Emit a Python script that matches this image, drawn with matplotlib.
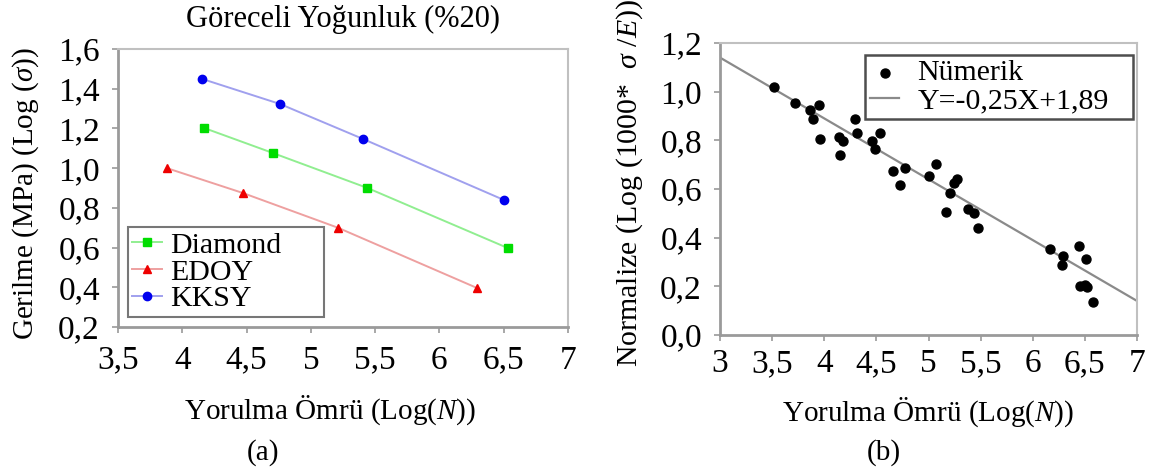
import numpy as np
import matplotlib
matplotlib.use("Agg")
import matplotlib.pyplot as plt
from matplotlib.ticker import FuncFormatter

plt.rcParams['font.family'] = 'serif'
plt.rcParams['font.serif'] = ['Liberation Serif', 'DejaVu Serif']
plt.rcParams['mathtext.fontset'] = 'custom'
plt.rcParams['mathtext.rm'] = 'Liberation Serif'
plt.rcParams['mathtext.it'] = 'Liberation Serif:italic'

# (a) Göreceli yoğunluk %20
diamond_x = [4.17, 4.705, 5.44, 6.53]
diamond_y = [1.202, 1.076, 0.90, 0.598]
edoy_x = [3.88, 4.47, 5.21, 6.29]
edoy_y = [1.00, 0.875, 0.70, 0.397]
kksy_x = [4.155, 4.76, 5.405, 6.50]
kksy_y = [1.449, 1.323, 1.147, 0.84]

# (b) nümerik noktalar
num_x = [3.52, 3.716, 3.865, 3.947, 3.887, 3.957, 4.142, 4.184, 4.152, 4.29,
         4.31, 4.46, 4.486, 4.532, 4.656, 4.77, 4.727, 5.004, 5.071, 5.206,
         5.241, 5.27, 5.17, 5.383, 5.436, 5.479, 6.163, 6.287, 6.277, 6.447,
         6.51, 6.454, 6.50, 6.52, 6.58]
num_y = [1.018, 0.955, 0.925, 0.945, 0.888, 0.804, 0.815, 0.797, 0.740, 0.888,
         0.832, 0.799, 0.764, 0.832, 0.675, 0.688, 0.616, 0.653, 0.701, 0.585,
         0.626, 0.641, 0.504, 0.516, 0.500, 0.438, 0.352, 0.325, 0.288, 0.366,
         0.311, 0.201, 0.205, 0.196, 0.137]
fit_a, fit_b = -0.25, 1.89


def comma(v, pos):
    if abs(v - round(v)) < 1e-9:
        return '%d' % round(v)
    return ('%.1f' % v).replace('.', ',')


def comma1(v, pos):
    return ('%.1f' % v).replace('.', ',')


def style_axes(ax, xpad):
    for s in ['left', 'bottom']:
        ax.spines[s].set_color('#9a9a9a')
        ax.spines[s].set_linewidth(2)
    for s in ['top', 'right']:
        ax.spines[s].set_color('#c0c0c0')
        ax.spines[s].set_linewidth(1.5)
    ax.tick_params(direction='out', length=4, width=1.2, color='#9a9a9a',
                   labelsize=24)
    ax.tick_params(axis='y', pad=9)
    ax.tick_params(axis='x', pad=xpad)


fig = plt.figure(figsize=(11.58, 4.70), dpi=100)

# ---- (a)
ax1 = fig.add_axes([0.1019, 0.3043, 0.3886, 0.5915])
ax1.plot(diamond_x, diamond_y, '-s', color='#90ee90', mfc='#00dd00', mec='#00dd00',
         ms=5.5, lw=1.4, label='Diamond')
ax1.plot(edoy_x, edoy_y, '-^', color='#eea0a0', mfc='#ee0000', mec='#ee0000',
         ms=5.5, lw=1.4, label='EDOY')
ax1.plot(kksy_x, kksy_y, '-o', color='#a0a0ee', mfc='#0000ee', mec='#0000ee',
         ms=6, lw=1.4, label='KKSY')
ax1.set_xlim(3.5, 7)
ax1.set_ylim(0.2, 1.6)
ax1.set_xticks(np.arange(3.5, 7.01, 0.5))
ax1.set_yticks(np.arange(0.2, 1.61, 0.2))
ax1.xaxis.set_major_formatter(FuncFormatter(comma))
ax1.yaxis.set_major_formatter(FuncFormatter(comma1))
style_axes(ax1, 9)
ax1.set_title('Göreceli Yoğunluk (%20)', fontsize=22, pad=16)
ax1.set_ylabel('Gerilme (MPa) (Log ($\\sigma$))', fontsize=21)
ax1.yaxis.set_label_coords(-0.171, 0.48)
fig.text(0.285, 0.128, 'Yorulma Ömrü (Log($N$))', fontsize=21, ha='center', va='center')
fig.text(0.227, 0.038, '(a)', fontsize=21, ha='center', va='center')
leg1 = ax1.legend(loc='lower left', bbox_to_anchor=(0.022, 0.036, 0.436, 0.324),
                  mode='expand', fontsize=21.5,
                  frameon=True, fancybox=False, borderpad=0.15, labelspacing=0.0,
                  handlelength=1.0, handletextpad=0.25, borderaxespad=0)
leg1.get_frame().set_edgecolor('#555555')
leg1.get_frame().set_linewidth(1.5)

# ---- (b)
ax2 = fig.add_axes([0.6218, 0.2872, 0.3601, 0.6213])
xf = np.array([3.0, 7.0])
ax2.plot(xf, fit_a * xf + fit_b, '-', color='#8a8a8a', lw=1.6,
         label='Y=-0,25X+1,89', zorder=2)
ax2.scatter(num_x, num_y, s=42, color='black', zorder=3, label='Nümerik')
ax2.set_xlim(3, 7)
ax2.set_ylim(0.0, 1.2)
ax2.set_xticks(np.arange(3, 7.01, 0.5))
ax2.set_yticks(np.arange(0.0, 1.21, 0.2))
ax2.xaxis.set_major_formatter(FuncFormatter(comma))
ax2.yaxis.set_major_formatter(FuncFormatter(comma1))
style_axes(ax2, 6)
ax2.set_ylabel('Normalize (Log (1000*  $\\sigma$ /$E$))', fontsize=21.5)
ax2.yaxis.set_label_coords(-0.18, 0.52)
fig.text(0.801, 0.123, 'Yorulma Ömrü (Log($N$))', fontsize=21, ha='center', va='center')
fig.text(0.763, 0.038, '(b)', fontsize=21, ha='center', va='center')
h, l = ax2.get_legend_handles_labels()
leg2 = ax2.legend([h[1], h[0]], [l[1], l[0]], loc='upper left',
                  bbox_to_anchor=(0.348, 0.0, 0.643, 0.959), mode='expand',
                  fontsize=21.5, frameon=True,
                  fancybox=False, borderpad=0.15, labelspacing=0.05,
                  handlelength=1.0, handletextpad=0.6, borderaxespad=0)
leg2.get_frame().set_edgecolor('#222222')
leg2.get_frame().set_linewidth(1.8)

plt.savefig('out.png', dpi=100)
